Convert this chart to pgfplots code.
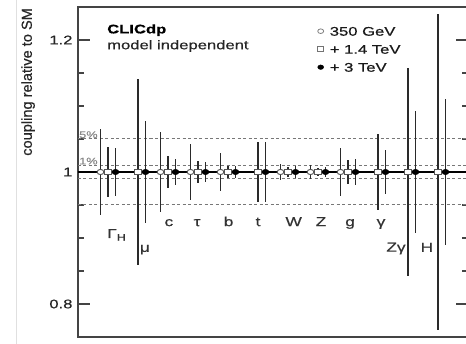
\documentclass[border=0pt]{standalone}
\usepackage{fontspec}
\setmainfont[FakeStretch=1.33, FakeBold=0.6]{Liberation Sans}
\newfontfamily\ylfont[FakeBold=0.6]{Liberation Sans}
\usepackage{pgfplots}
\pgfplotsset{compat=1.18}
\usepackage{pgfplotstable}
\definecolor{axgray}{HTML}{444444}
\definecolor{bargray}{HTML}{2A2A2A}
\definecolor{dashgray}{HTML}{777777}
\definecolor{pctgray}{HTML}{8A8A8A}
\definecolor{mkgray}{HTML}{555555}

% x = group index + offset, y = 1, e = uncertainty
\pgfplotstableread{
x y e
-0.25 1 0.065
1.75 1 0.061
2.75 1 0.043
3.75 1 0.029
5.75 1 0.012
6.75 1 0.011
7.75 1 0.036
}\lowE
\pgfplotstableread{
x y e
0 1 0.038
1 1 0.141
2 1 0.024
3 1 0.017
4 1 0.009
5 1 0.045
6 1 0.008
7 1 0.006
8 1 0.018
9 1 0.057
10 1 0.157
11 1 0.240
}\midE
\pgfplotstableread{
x y e
0.25 1 0.036
1.25 1 0.078
2.25 1 0.019
3.25 1 0.015
4.25 1 0.009
5.25 1 0.045
6.25 1 0.009
7.25 1 0.008
8.25 1 0.019
9.25 1 0.033
10.25 1 0.092
11.25 1 0.110
}\highE

\begin{document}
\begin{tikzpicture}
\path[use as bounding box] (-78pt,-7pt) rectangle (388pt,337pt);
\draw[color=black!12, line width=1pt] (-61pt,-7pt) -- (-61pt,337pt);
\begin{axis}[
  scale only axis, width=390pt, height=330pt,
  xmin=-1, xmax=12, ymin=0.75, ymax=1.25,
  xtick=\empty,
  ytick={0.8,1,1.2}, yticklabels={0.8,1,1.2},
  minor ytick={0.85,0.9,0.95,1.05,1.1,1.15},
  yticklabel pos=left,
  tick align=inside,
  major tick length=12pt, minor tick length=6pt,
  every tick/.style={line width=1.2pt, color=axgray},
  axis line style={line width=1.8pt, color=axgray},
  /pgf/number format/assume math mode=true,
  yticklabel style={font=\fontsize{12.5}{14}\selectfont, text=black!85, xshift=-2pt},
  ylabel={coupling relative to SM},
  every axis y label/.style={at={(axis description cs:-0.128,0.773)}, rotate=90, anchor=center, font=\ylfont\fontsize{14.6}{16}\selectfont, text=black!85},
  clip=false,
  legend style={draw=none, fill=none, at={(axis cs:6.98,1.2235)}, anchor=north west,
    inner sep=0pt, row sep=5pt, font=\fontsize{12.5}{14}\selectfont,
    nodes={inner sep=2pt, text height=9pt, text depth=0pt, text=black!90},
    /tikz/every odd column/.append style={column sep=4pt}},
  legend cell align=left,
  legend image code/.code={\draw[#1] plot coordinates {(0pt,0pt)};},
  error bars/y dir=both, error bars/y explicit,
  error bars/error mark=none,
  error bars/error bar style={line width=1.9pt, color=bargray},
]
% reference lines
\addplot[forget plot, dashgray, line width=1pt, dash pattern=on 3pt off 2.5pt] coordinates {(-1,1.05) (12,1.05)};
\addplot[forget plot, dashgray, line width=1pt, dash pattern=on 3pt off 2.5pt] coordinates {(-1,1.01) (12,1.01)};
\addplot[forget plot, dashgray, line width=1pt, dash pattern=on 3pt off 2.5pt] coordinates {(-1,0.99) (12,0.99)};
\addplot[forget plot, dashgray, line width=1pt, dash pattern=on 3pt off 2.5pt] coordinates {(-1,0.95) (12,0.95)};
\addplot[forget plot, black, line width=1.5pt] coordinates {(-1,1) (12,1)};

\node[anchor=base west, inner sep=0pt, text=pctgray, font=\fontsize{9.6}{10}\selectfont] at (axis cs:-0.967,1.0515) {5\%};
\node[anchor=base west, inner sep=0pt, text=pctgray, font=\fontsize{9.6}{10}\selectfont] at (axis cs:-0.967,1.0115) {1\%};

% data
\addplot[forget plot, only marks, mark=*, mark size=2.6pt, mark options={xscale=1.3, fill=white, draw=mkgray, line width=0.9pt}]
  table[x=x, y=y, y error=e] {\lowE};
\addplot[forget plot, only marks, mark=square*, mark size=2.6pt, mark options={xscale=1.4, fill=white, draw=mkgray, line width=0.9pt}]
  table[x=x, y=y, y error=e] {\midE};
\addplot[forget plot, only marks, mark=*, mark size=2.7pt, mark options={xscale=1.3, fill=black, draw=black}]
  table[x=x, y=y, y error=e] {\highE};

% legend
\addlegendimage{only marks, mark=*, mark size=2.3pt, mark options={xscale=1.3, fill=white, draw=black!50, line width=0.8pt}}
\addlegendentry{350 GeV}
\addlegendimage{only marks, mark=square*, mark size=2.3pt, mark options={xscale=1.35, fill=white, draw=black!55, line width=0.8pt}}
\addlegendentry{+ 1.4 TeV}
\addlegendimage{only marks, mark=*, mark size=2.3pt, mark options={xscale=1.3, fill=black, draw=black}}
\addlegendentry{+ 3 TeV}

% texts
\node[anchor=base west, inner sep=0pt, font=\bfseries\fontsize{12.5}{14}\selectfont] at (axis cs:-0.033,1.210) {CLICdp};
\node[anchor=base west, inner sep=0pt, font=\fontsize{12.5}{14}\selectfont, text=black!85] at (axis cs:-0.033,1.186) {model independent};

% category labels
\begin{scope}[every node/.style={anchor=base, inner sep=0pt, font=\fontsize{13}{14}\selectfont, text=black!80}]
\node[anchor=base west] at (axis cs:-0.03,0.900) {Γ\raisebox{-0.4ex}{\fontsize{9.5}{10}\selectfont H}};
\node at (axis cs:1.23,0.879) {μ};
\node at (axis cs:2.03,0.918) {c};
\node at (axis cs:2.97,0.918) {τ};
\node at (axis cs:4.02,0.918) {b};
\node at (axis cs:5.0,0.918) {t};
\node at (axis cs:6.19,0.918) {W};
\node at (axis cs:7.1,0.918) {Z};
\node at (axis cs:8.07,0.918) {g};
\node at (axis cs:9.1,0.918) {γ};
\node at (axis cs:9.6,0.8793) {Zγ};
\node at (axis cs:10.63,0.879) {H};
\end{scope}
\end{axis}
\end{tikzpicture}
\end{document}
